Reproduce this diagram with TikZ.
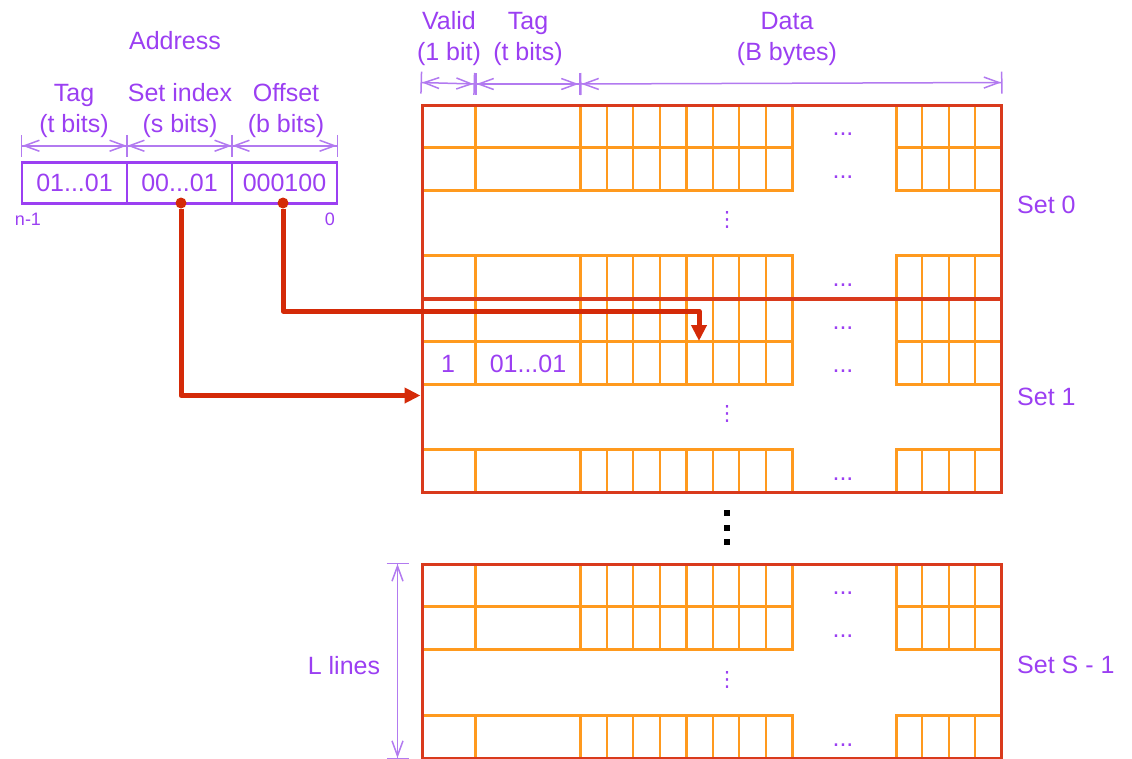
\documentclass[tikz,border=0pt]{standalone}
\usepackage{fontspec}
\setmainfont{Liberation Sans}
\newfontfamily\symfont{DejaVu Sans}
\usepackage{xcolor}
\usetikzlibrary{arrows.meta,positioning,calc}

\definecolor{lilac}{HTML}{9B3FF2}
\definecolor{dimlilac}{HTML}{B27AF0}
\definecolor{linecol}{HTML}{FF9A1E}
\definecolor{setcol}{HTML}{D93A1C}
\definecolor{ptrcol}{HTML}{D42A08}

\begin{document}
\begin{tikzpicture}[x=1pt,y=-1pt,
txt/.style={text=lilac,font=\fontsize{25}{31}\selectfont,align=center,inner sep=0pt},
small/.style={text=lilac,font=\fontsize{18}{20}\selectfont,inner sep=0pt},
vdot/.style={text=lilac,font=\symfont\fontsize{21}{21}\selectfont,inner sep=0pt},
field/.style={draw=lilac,line width=2.5pt,minimum width=105pt,minimum height=41pt,inner sep=0pt,text=lilac,font=\fontsize{25}{31}\selectfont},
dim/.style={draw=dimlilac,line width=1.5pt,arrows={Bar[width=22pt]Straight Barb[length=15pt,width=11pt]-Straight Barb[length=15pt,width=11pt]Bar[width=22pt]}},
setbox/.style={draw=setcol,line width=3pt,minimum width=579pt,minimum height=193pt,inner sep=0pt},
thin/.style={draw=linecol,line width=2pt},
thick/.style={draw=linecol,line width=3pt},
ptr/.style={draw=ptrcol,line width=5pt,line join=round,-{Triangle[length=16pt,width=15pt]}},
dot/.style={circle,fill=ptrcol,minimum size=11pt,inner sep=0pt}]

\path[use as bounding box] (0,0) rectangle (1132,758);
\clip (0,0) rectangle (1132,758);

% address
\node[txt] (addr) at (175,41) {Address};
\node[txt] (htag) at (74,111) {Tag\\(t bits)};
\node[txt] (hset) at (180,111) {Set index\\(s bits)};
\node[txt] (hoff) at (286,111) {Offset\\(b bits)};
\node[field] (f0) at (74.5,183) {01...01};
\node[field] (f1) at (179.5,183) {00...01};
\node[field] (f2) at (284.5,183) {000100};
\node[small] (msb) at (28,219) {n-1};
\node[small] (lsb) at (330,219) {0};
\draw[dim] ([yshift=15.5pt]f0.north west) -- ([yshift=15.5pt]f0.north east);
\draw[dim] ([yshift=15.5pt]f1.north west) -- ([yshift=15.5pt]f1.north east);
\draw[dim] ([yshift=15.5pt]f2.north west) -- ([yshift=15.5pt]f2.north east);

% cache lines
\foreach \t [count=\i] in {105,147.5,255.5,299,341.5,449.5,564,606.5,715.5}{
  \draw[thick] (422,\t) rectangle (792,\t+42.5);
  \draw[thick] (896,\t) rectangle (1001,\t+42.5);
  \foreach \x in {475,580,686}
    \draw[thick] (\x,\t) -- (\x,\t+42.5);
  \foreach \x in {606.5,633,659.5,712.5,739,765.5,922.25,948.5,974.75}
    \draw[thin] (\x,\t) -- (\x,\t+42.5);
  \node[txt] (gap\i) at (843,\t+29.5) {...};
}
\foreach \t [count=\i] in {220,414,680}
  \node[vdot] (vd\i) at (727,\t) {⋮};
\foreach \y in {513,527.5,542}
  \fill (724,\y-3) rectangle (730,\y+3);

% sets
\node[setbox] (s0) at (711.5,201.5) {};
\node[setbox] (s1) at (711.5,395.5) {};
\node[setbox,minimum height=194pt] (s2) at (711.5,661) {};
\node[txt,anchor=west] (l0) at (1017,205) {Set 0};
\node[txt,anchor=west] (l1) at (1017,397) {Set 1};
\node[txt,anchor=west] (l2) at (1017,665) {Set S - 1};

\node[txt] (vbit) at (448,364) {1};
\node[txt] (vtag) at (528,364) {01...01};

% headers
\node[txt] (hvalid) at (449,39) {Valid\\(1 bit)};
\node[txt] (hctag) at (528,39) {Tag\\(t bits)};
\node[txt] (hdata) at (787,39) {Data\\(B bytes)};
\coordinate (vt) at (475,105);
\coordinate (td) at (580,105);
\draw[dim] ([yshift=21pt]s0.north west) -- ([yshift=21pt]vt);
\draw[dim] ([yshift=21pt]vt) -- ([yshift=21pt]td);
\draw[dim] ([yshift=21pt]td) -- ([yshift=21pt]s0.north east);
\draw[dim] ([xshift=-23pt]s2.north west) -- ([xshift=-23pt]s2.south west);
\node[txt] (lines) at (344,666) {L lines};

% pointers
\node[dot] (dS) at (181,203) {};
\node[dot] (dB) at (283,203) {};
\coordinate (bend) at (699,311);
\coordinate (byte) at (699,341);
\draw[ptr] (dS) |- (s1.west);
\draw[ptr] (dB) |- (bend) -- (byte);
\end{tikzpicture}
\end{document}
